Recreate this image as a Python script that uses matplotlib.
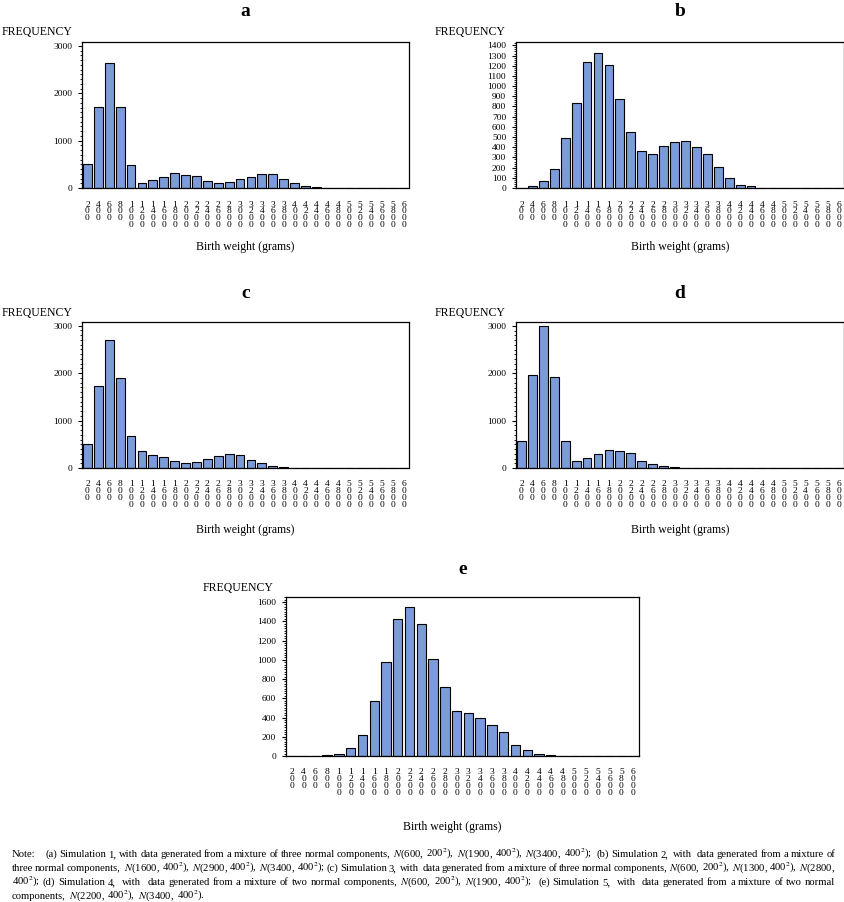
import numpy as np
import matplotlib
matplotlib.use('Agg')
import matplotlib.pyplot as plt
from matplotlib.ticker import MultipleLocator

matplotlib.rcParams['font.family'] = ['Liberation Serif', 'DejaVu Serif']
matplotlib.rcParams['mathtext.fontset'] = 'stix'

# birth weight classes (grams)
weights = list(range(200, 6001, 200))

freq_a = [505, 1703, 2636, 1717, 477, 112, 168, 224, 308, 273, 245, 140, 112, 119, 196,
          238, 294, 287, 182, 98, 42, 21, 7, 5, 2, 1, 0, 0, 0, 0]
freq_b = [2, 20, 65, 183, 487, 834, 1236, 1328, 1210, 870, 553, 363, 330, 412, 451,
          464, 402, 333, 203, 101, 33, 20, 3, 2, 0, 0, 0, 0, 0, 0]
freq_c = [505, 1717, 2699, 1886, 673, 350, 273, 238, 140, 105, 119, 196, 245, 294, 280,
          175, 98, 35, 21, 5, 2, 1, 0, 0, 0, 0, 0, 0, 0, 0]
freq_d = [568, 1970, 3007, 1921, 568, 140, 217, 294, 379, 350, 308, 154, 91, 42, 14,
          5, 1, 0, 0, 0, 0, 0, 0, 0, 0, 0, 0, 0, 0, 0]
freq_e = [0, 0, 0, 7, 24, 87, 219, 567, 974, 1423, 1548, 1370, 1009, 716, 470,
          445, 390, 327, 250, 111, 66, 17, 10, 3, 3, 0, 0, 0, 0, 0]

panel_letters = ['a', 'b', 'c', 'd', 'e']

note_lines = [
    "Note:    (a) Simulation 1, with data generated from a mixture of three normal components, "
    "$N$(600, 200$^2$), $N$(1900, 400$^2$), $N$(3400, 400$^2$);  (b) Simulation 2,  with  data generated from a mixture of",
    "three normal components,  $N$(1600, 400$^2$), $N$(2900, 400$^2$), $N$(3400, 400$^2$); (c) Simulation 3,  with  data "
    "generated from a mixture of three normal components, $N$(600, 200$^2$), $N$(1300, 400$^2$), $N$(2800,",
    "400$^2$); (d) Simulation 4,  with  data generated from a mixture of two normal components, "
    "$N$(600, 200$^2$), $N$(1900, 400$^2$);  (e) Simulation 5,  with  data generated from a mixture of two normal",
    "components, $N$(2200, 400$^2$), $N$(3400, 400$^2$).",
]

W, H = 845, 902
fig = plt.figure(figsize=(W / 100, H / 100), dpi=100)


def px_axes(left, top, right, bottom):
    return fig.add_axes([left / W, 1 - bottom / H, (right - left) / W, (bottom - top) / H])


# (values, axes box in px, ylim top, major step, minor step, title y, freq label xy, xlabel xy)
panels = [
    (freq_a, (82, 42, 409, 188), 3085, 1000, 100, 12, (2, 32), (245, 247)),
    (freq_b, (516, 42, 844, 188), 1433, 100, 20, 12, (435, 32), (680, 247)),
    (freq_c, (82, 322, 409, 468), 3075, 1000, 100, 293, (2, 313), (245, 530)),
    (freq_d, (516, 322, 844, 468), 3085, 1000, 100, 293, (435, 313), (680, 530)),
    (freq_e, (286, 597, 639, 756), 1652, 200, 25, 570, (203, 588), (452, 827)),
]

x = np.arange(len(weights))
xlabels = ['\n'.join(str(w)) for w in weights]

for letter, (vals, box, ytop, major, minor, ty, fxy, lxy) in zip(panel_letters, panels):
    ax = px_axes(*box)
    ax.bar(x, vals, width=0.8, color='#7b9bd9', edgecolor='black', linewidth=0.8)
    ax.set_xlim(-0.5, len(weights) - 0.5)
    ax.set_ylim(0, ytop)
    ax.yaxis.set_major_locator(MultipleLocator(major))
    ax.yaxis.set_minor_locator(MultipleLocator(minor))
    ax.set_xticks(x)
    ax.set_xticklabels(xlabels, fontsize=6.8, linespacing=0.82, va='top')
    ax.tick_params(axis='x', length=0, pad=9)
    ax.tick_params(axis='y', which='major', length=3, width=0.8, labelsize=6.8, pad=4)
    ax.tick_params(axis='y', which='minor', length=1.5, width=0.6)
    for sp in ax.spines.values():
        sp.set_linewidth(0.9)
    cx = (box[0] + box[2]) / 2
    fig.text(cx / W, 1 - ty / H, letter, ha='center', va='center',
             fontsize=14, fontweight='bold')
    fig.text(fxy[0] / W, 1 - fxy[1] / H, 'FREQUENCY', ha='left', va='center', fontsize=8.5)
    fig.text(lxy[0] / W, 1 - lxy[1] / H, 'Birth weight (grams)', ha='center', va='center',
             fontsize=8.5)

# justified note text at the bottom
renderer = fig.canvas.get_renderer()
x0, x1 = 12, 835
line_y = [857, 871, 885, 899]
for i, (line, ly) in enumerate(zip(note_lines, line_y)):
    parts = line.split(' ')
    words, gaps = [], []
    for p in parts:
        if p == '':
            if gaps:
                gaps[-1] += 1
        else:
            words.append(p)
            gaps.append(1)
    gaps = gaps[:-1]
    texts = [fig.text(0, 1 - ly / H, w, fontsize=7.7, ha='left', va='baseline') for w in words]
    widths = [t.get_window_extent(renderer).width for t in texts]
    if i < len(note_lines) - 1:
        unit = max((x1 - x0 - sum(widths)) / sum(gaps), 1.0)
    else:
        unit = 2.8
    pos = x0
    for j, t in enumerate(texts):
        t.set_x(pos / W)
        pos += widths[j]
        if j < len(gaps):
            pos += unit * gaps[j]

fig.savefig('out.png', dpi=100)
